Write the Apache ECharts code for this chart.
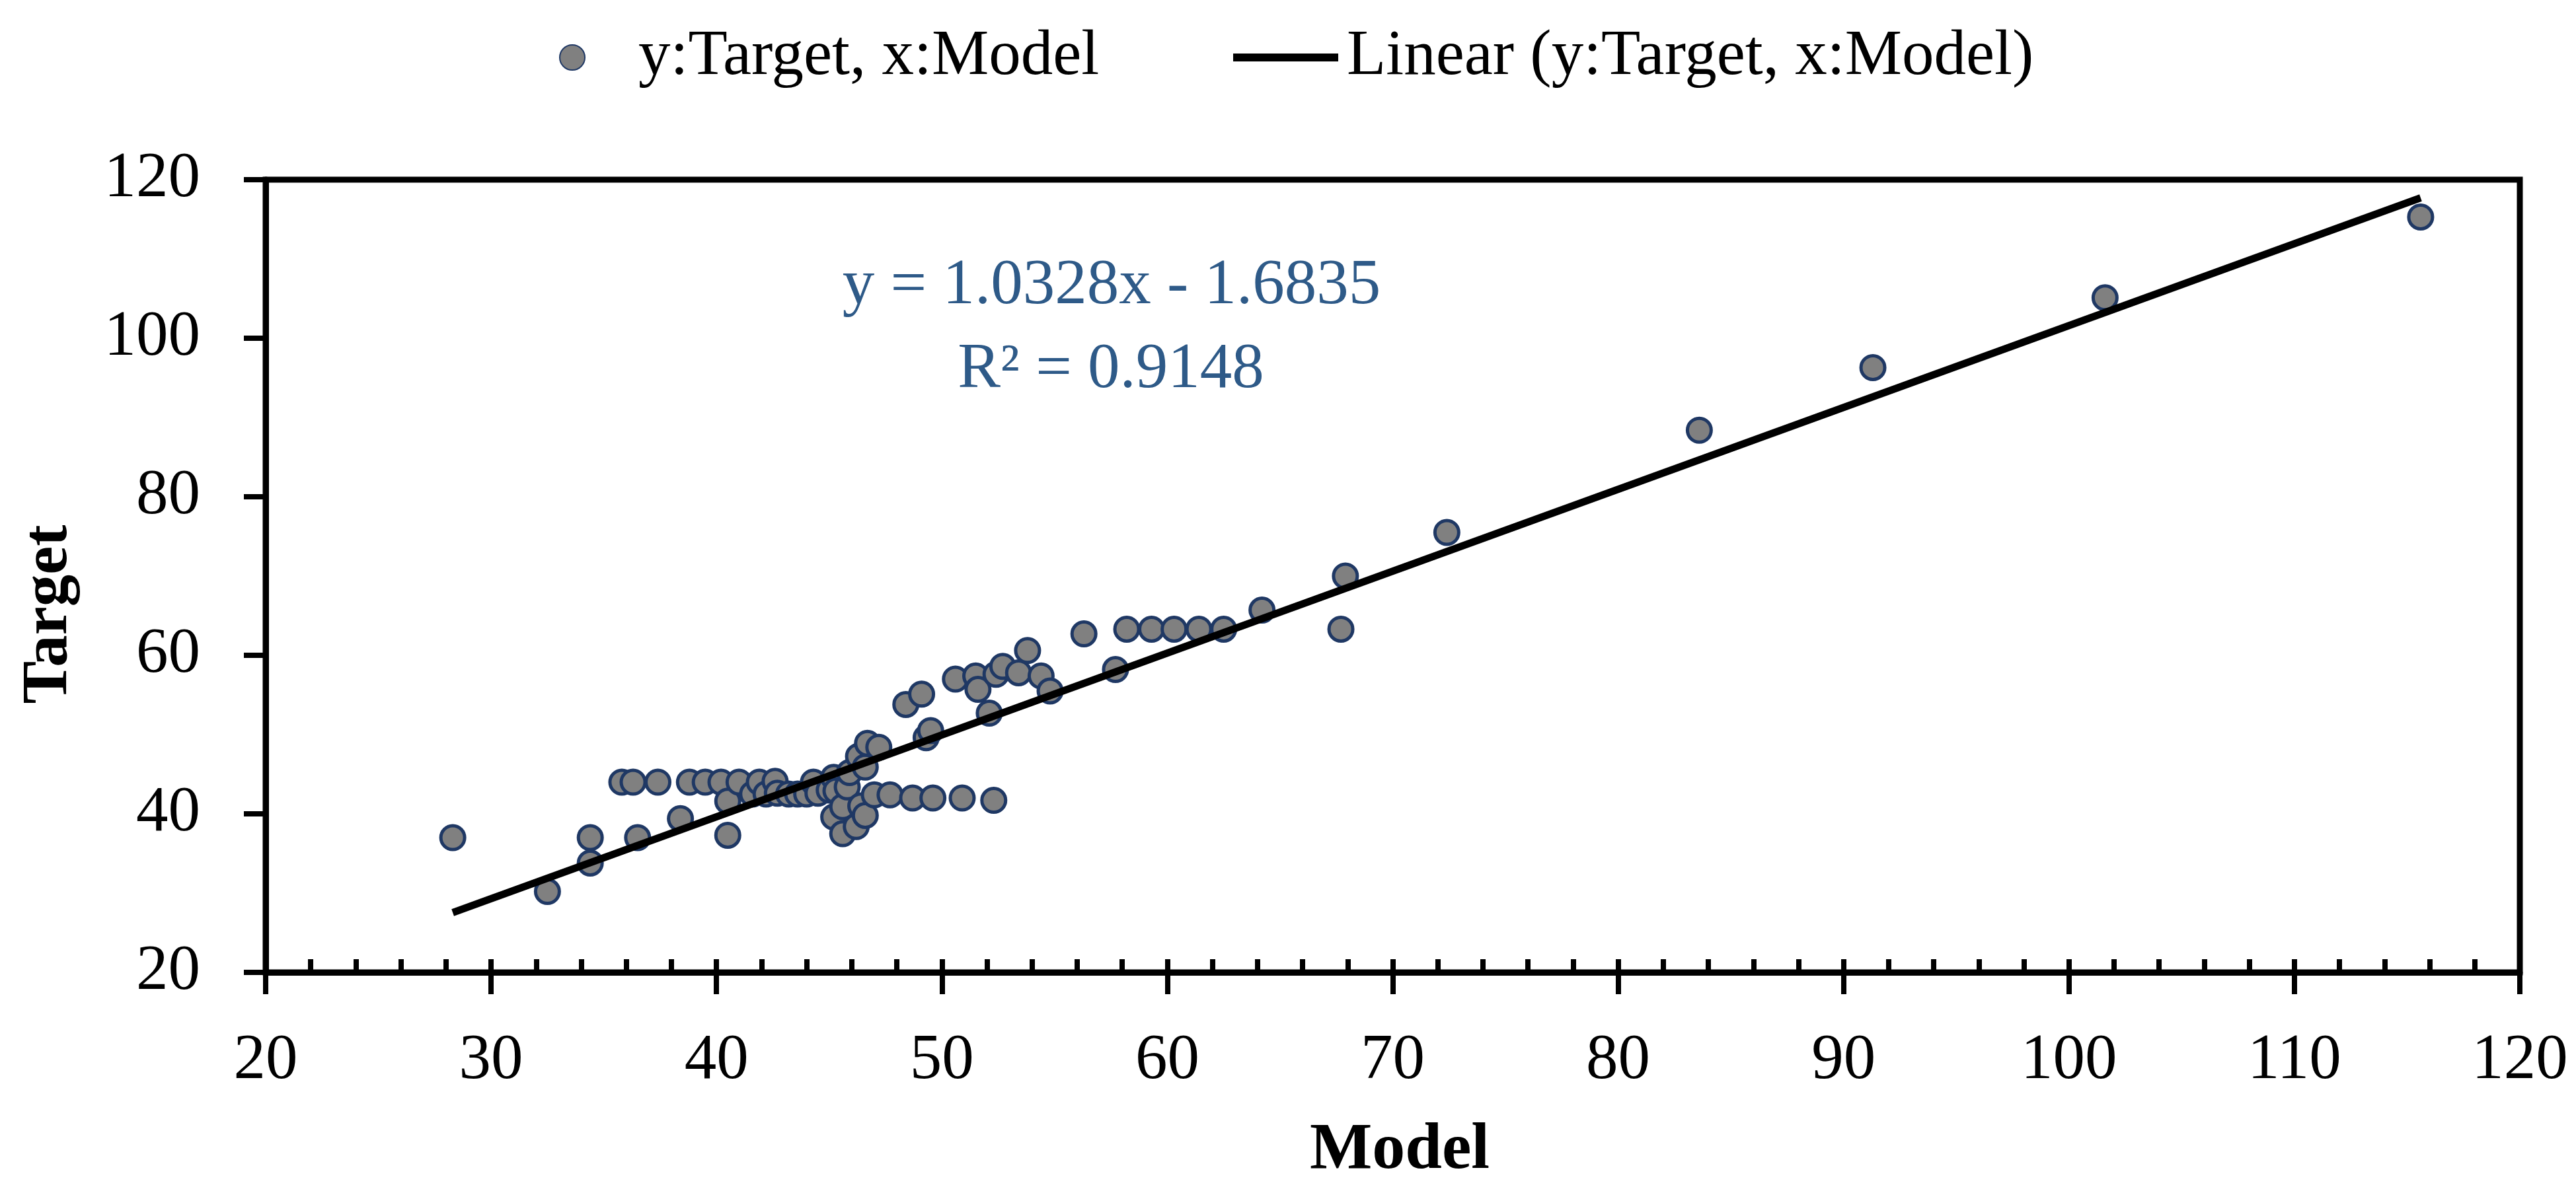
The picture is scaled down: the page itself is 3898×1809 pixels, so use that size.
<!DOCTYPE html>
<html>
<head>
<meta charset="utf-8">
<script src="https://cdn.jsdelivr.net/npm/echarts/dist/echarts.min.js"></script>
<style>
html,body{margin:0;padding:0;background:#fff;}
#chart{width:3898px;height:1809px;}
</style>
</head>
<body>
<div id="chart"></div>
<script>
// ---- data ----
const modelX = [28.3, 32.5, 34.4, 34.4, 35.8, 36.3, 36.5, 37.4, 38.4, 38.8,
  39.5, 40.2, 40.5, 40.5, 41.0, 41.6, 41.9, 42.2, 42.6, 42.7,
  43.2, 43.6, 44.0, 44.3, 44.5, 45.0, 45.2, 45.3, 45.2, 45.6,
  45.6, 45.8, 45.9, 46.2, 46.4, 46.6, 46.3, 46.6, 46.7, 47.2,
  47.0, 47.7, 48.7, 49.6, 50.9, 52.3, 48.4, 49.1, 49.3, 49.5,
  50.6, 51.5, 51.6, 52.1, 52.4, 52.7, 53.4, 53.8, 54.4, 54.8,
  56.3, 57.7, 58.2, 59.3, 60.3, 61.4, 62.5, 64.2, 67.7, 67.9,
  72.4, 83.6, 91.3, 101.6, 115.6];
const targetY = [37.0, 30.2, 37.0, 33.8, 44.0, 44.0, 37.0, 44.0, 39.4, 44.0,
  44.0, 44.0, 37.3, 41.6, 44.0, 42.5, 44.0, 42.5, 44.1, 42.6,
  42.5, 42.5, 42.5, 44.0, 42.6, 43.0, 44.6, 42.9, 39.6, 40.9,
  37.5, 43.4, 45.2, 38.4, 41.0, 39.8, 47.25, 45.9, 48.9, 48.4,
  42.4, 42.4, 42.0, 42.0, 42.0, 41.7, 53.8, 55.1, 49.6, 50.5,
  57.0, 57.4, 55.7, 52.7, 57.6, 58.6, 57.8, 60.6, 57.4, 55.5,
  62.7, 58.2, 63.3, 63.3, 63.3, 63.3, 63.3, 65.7, 63.3, 70.0,
  75.5, 88.4, 96.3, 105.1, 115.3];
const trendSlope = 1.0328;
const trendIntercept = -1.6835;
const rSquared = 0.9148;
const xRange = [20, 120];
const yRange = [20, 120];
const xMajor = 10, xMinor = 2, yMajor = 20;
const scatterName = 'y:Target, x:Model';
const trendName = 'Linear (y:Target, x:Model)';
const xTitle = 'Model';
const yTitle = 'Target';

// ---- build ----
const points = modelX.map((x, i) => [x, targetY[i]]);
const tx0 = Math.min(...modelX), tx1 = Math.max(...modelX);
const trendPts = [[tx0, trendSlope * tx0 + trendIntercept], [tx1, trendSlope * tx1 + trendIntercept]];
const eqText = 'y = ' + trendSlope.toFixed(4) + 'x - ' + Math.abs(trendIntercept).toFixed(4);
const r2Text = 'R\u00B2 = ' + rSquared.toFixed(4);

const FONT = '"Liberation Serif", "Times New Roman", serif';
const chart = echarts.init(document.getElementById('chart'), null, {renderer: 'canvas'});
chart.setOption({
  backgroundColor: '#fff',
  animation: false,
  grid: {left: 402, right: 85, top: 272, bottom: 337, show: true,
         borderColor: '#000', borderWidth: 9, containLabel: false},
  legend: [
    {data: [{name: scatterName, icon: 'circle'}], left: 841, top: 32,
     itemWidth: 38, itemHeight: 38, selectedMode: false,
     textStyle: {fontFamily: FONT, fontSize: 97, color: '#000', lineHeight: 100, padding: [0, 0, 0, 76]}},
    {data: [{name: trendName, icon: 'rect'}], left: 1861, top: 32,
     itemWidth: 159, itemHeight: 12, selectedMode: false,
     itemStyle: {color: '#000', borderWidth: 0},
     textStyle: {fontFamily: FONT, fontSize: 97, color: '#000', lineHeight: 100, padding: [0, 0, 0, 8]}}
  ],
  xAxis: [
    {type: 'value', position: 'bottom', min: xRange[0], max: xRange[1], interval: xMajor,
     axisLine: {show: true, onZero: false, lineStyle: {color: '#000', width: 9}},
     axisTick: {show: true, inside: false, length: 33, lineStyle: {color: '#000', width: 8}},
     axisLabel: {show: true, margin: 86, fontFamily: FONT, fontSize: 97, color: '#000', lineHeight: 97},
     splitLine: {show: false}},
    {type: 'value', position: 'bottom', min: xRange[0], max: xRange[1], interval: xMinor,
     axisLine: {show: false, onZero: false},
     axisTick: {show: true, inside: true, length: 20, lineStyle: {color: '#000', width: 8}},
     axisLabel: {show: false}, splitLine: {show: false}}
  ],
  yAxis: {type: 'value', min: yRange[0], max: yRange[1], interval: yMajor,
    axisLine: {show: true, onZero: false, lineStyle: {color: '#000', width: 9}},
    axisTick: {show: true, inside: false, length: 33, lineStyle: {color: '#000', width: 8}},
    axisLabel: {show: true, margin: 99, fontFamily: FONT, fontSize: 97, color: '#000'},
    splitLine: {show: false}},
  series: [
    {name: scatterName, type: 'scatter', xAxisIndex: 0, data: points, symbol: 'circle', symbolSize: 36, z: 2,
     itemStyle: {color: '#808080', borderColor: '#1F3864', borderWidth: 5, opacity: 1}},
    {name: trendName, type: 'line', xAxisIndex: 0, data: trendPts, symbol: 'none', z: 3,
     color: '#000', itemStyle: {color: '#000'},
     lineStyle: {color: '#000', width: 11}}
  ],
  graphic: [
    {type: 'text', x: 1682, y: 434, z: 10,
     style: {text: eqText, font: '97px ' + FONT, fill: '#2E5A88', textAlign: 'center', textVerticalAlign: 'middle'}},
    {type: 'text', x: 1681, y: 561, z: 10,
     style: {text: r2Text, font: '97px ' + FONT, fill: '#2E5A88', textAlign: 'center', textVerticalAlign: 'middle'}},
    {type: 'text', x: 2118, y: 1742, z: 10,
     style: {text: xTitle, font: 'bold 100px ' + FONT, fill: '#000', textAlign: 'center', textVerticalAlign: 'middle'}},
    {type: 'text', x: 75, y: 930, rotation: Math.PI / 2, z: 10,
     style: {text: yTitle, font: 'bold 97px ' + FONT, fill: '#000', textAlign: 'center', textVerticalAlign: 'middle'}}
  ]
});
</script>
</body>
</html>
